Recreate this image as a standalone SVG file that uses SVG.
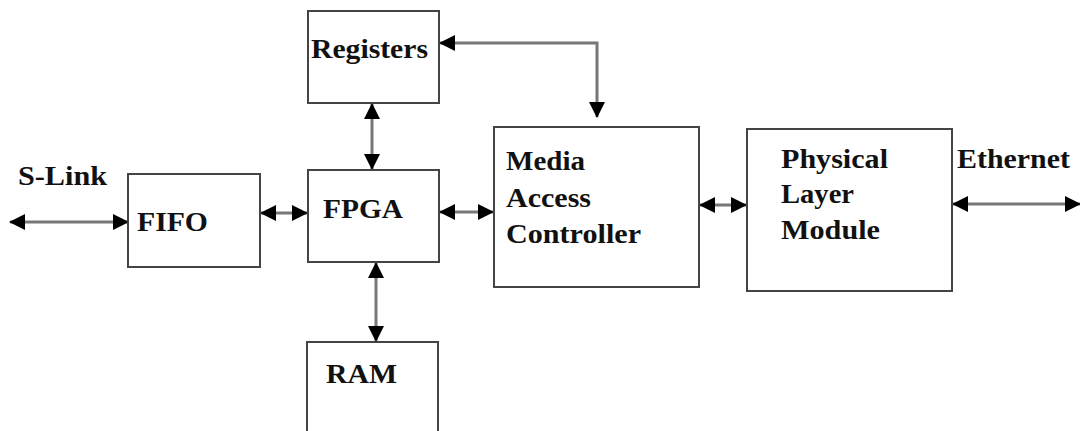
<svg xmlns="http://www.w3.org/2000/svg" width="1080" height="431" viewBox="0 0 1080 431">
<style>
.box{fill:#fff;stroke:#444;stroke-width:2}
.lbl{font-family:"Liberation Serif","Times New Roman",serif;font-weight:bold;font-size:28px;fill:#111}
.con{stroke:#777;stroke-width:3;fill:none;marker-start:url(#ah);marker-end:url(#ah)}
</style>
<defs>
<marker id="ah" viewBox="0 0 16 16" refX="15" refY="8" markerWidth="16" markerHeight="16" markerUnits="userSpaceOnUse" orient="auto-start-reverse">
<path d="M0,0 L16,8 L0,16 Z" fill="#000"/>
</marker>
</defs>
<rect width="1080" height="431" fill="#fff"/>
<g id="connectors">
<line class="con" x1="10" y1="222" x2="128" y2="222"/>
<line class="con" x1="261" y1="213" x2="307" y2="213"/>
<line class="con" x1="440" y1="212" x2="493" y2="212"/>
<line class="con" x1="372" y1="104" x2="372" y2="169"/>
<line class="con" x1="376" y1="263" x2="376" y2="341"/>
<polyline class="con" points="440,43 597,43 597,117"/>
<line class="con" x1="700" y1="205" x2="746" y2="205"/>
<line class="con" x1="953" y1="204" x2="1080" y2="204"/>
</g>
<g id="slink"><text class="lbl" x="18" y="185" textLength="89" lengthAdjust="spacingAndGlyphs">S-Link</text></g>
<g id="fifo"><rect class="box" x="128" y="174" width="132" height="93"/><text class="lbl" x="137" y="231" textLength="71" lengthAdjust="spacingAndGlyphs">FIFO</text></g>
<g id="registers"><rect class="box" x="308" y="11" width="131" height="92"/><text class="lbl" x="311" y="58" textLength="117" lengthAdjust="spacingAndGlyphs">Registers</text></g>
<g id="fpga"><rect class="box" x="308" y="170" width="131" height="92"/><text class="lbl" x="323" y="218" textLength="80" lengthAdjust="spacingAndGlyphs">FPGA</text></g>
<g id="ram"><rect class="box" x="307" y="342" width="131" height="100"/><text class="lbl" x="326" y="383" textLength="71" lengthAdjust="spacingAndGlyphs">RAM</text></g>
<g id="mac"><rect class="box" x="494" y="127" width="205" height="160"/>
<text class="lbl" x="506" y="170" textLength="79" lengthAdjust="spacingAndGlyphs">Media</text>
<text class="lbl" x="506" y="207" textLength="85" lengthAdjust="spacingAndGlyphs">Access</text>
<text class="lbl" x="506" y="243" textLength="135" lengthAdjust="spacingAndGlyphs">Controller</text></g>
<g id="phy"><rect class="box" x="747" y="129" width="205" height="162"/>
<text class="lbl" x="781" y="168" textLength="107" lengthAdjust="spacingAndGlyphs">Physical</text>
<text class="lbl" x="781" y="203" textLength="73" lengthAdjust="spacingAndGlyphs">Layer</text>
<text class="lbl" x="781" y="239" textLength="99" lengthAdjust="spacingAndGlyphs">Module</text></g>
<g id="ethernet"><text class="lbl" x="957" y="168" textLength="113" lengthAdjust="spacingAndGlyphs">Ethernet</text></g>
</svg>
